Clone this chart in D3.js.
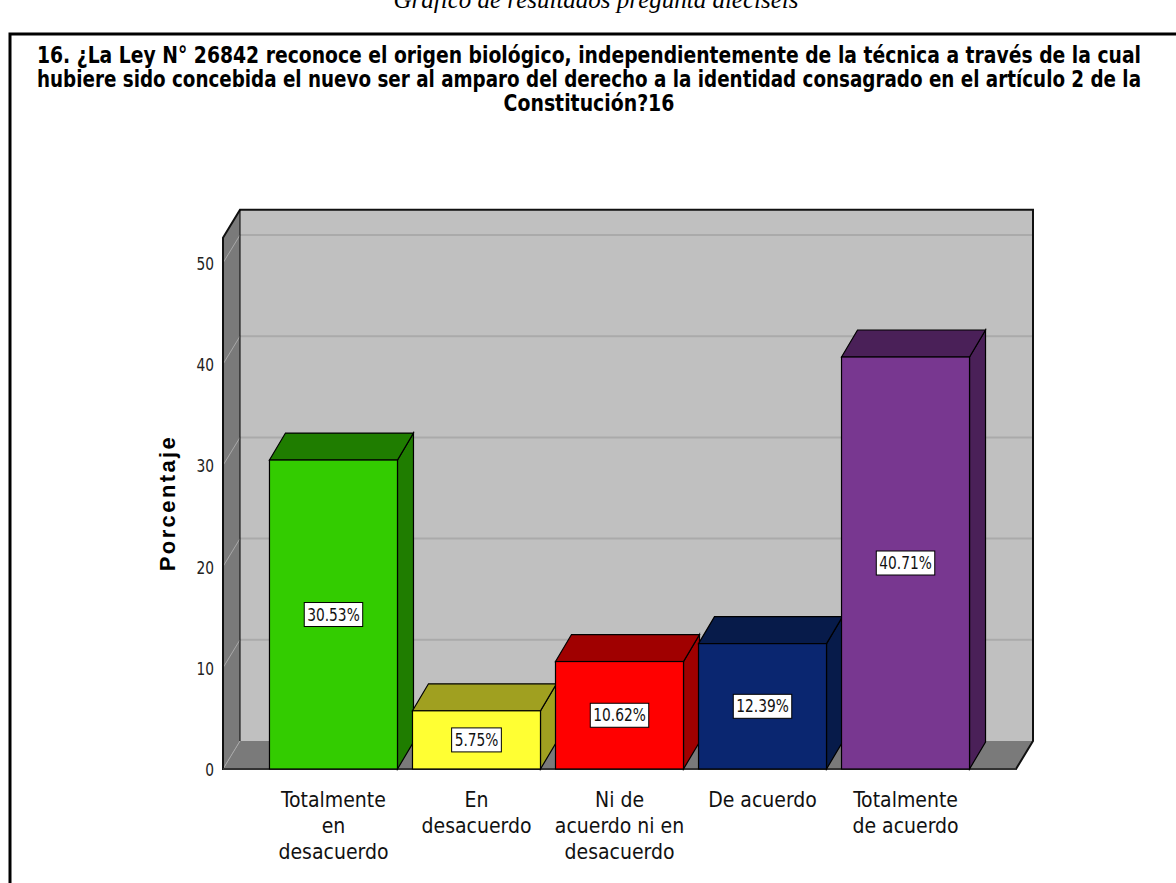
<!DOCTYPE html>
<html>
<head>
<meta charset="utf-8">
<script src="https://cdn.jsdelivr.net/npm/d3@7"></script>
<style>
  body { margin: 0; background: #fff; }
  svg { display: block; }
  .narrow { font-family: "Liberation Sans Narrow", "Arial Narrow", "DejaVu Sans Condensed", sans-serif; }
</style>
</head>
<body>
<div id="chart"></div>
<script>
// data
var categories = [
  ["Totalmente", "en", "desacuerdo"],
  ["En", "desacuerdo"],
  ["Ni de", "acuerdo ni en", "desacuerdo"],
  ["De acuerdo"],
  ["Totalmente", "de acuerdo"]
];
var values = [30.53, 5.75, 10.62, 12.39, 40.71];
var labels = ["30.53%", "5.75%", "10.62%", "12.39%", "40.71%"];
var yTicks = [0, 10, 20, 30, 40, 50];
var titleLines = [
  "16. ¿La Ley N° 26842 reconoce el origen biológico, independientemente de la técnica a través de la cual",
  "hubiere sido concebida el nuevo ser al amparo del derecho a la identidad consagrado en el artículo 2 de la",
  "Constitución?16"
];
var frontColors = ["#33cc00", "#ffff33", "#ff0000", "#0a2670", "#783790"];
var darkColors  = ["#1f7d00", "#a0a020", "#a00000", "#071b4a", "#4a2058"];

var W = 1176, H = 883;

var svg = d3.select("#chart")
  .append("svg")
    .attr("width", W)
    .attr("height", H);

// caption above the frame (cut off by page top, as in the source image)
svg.append("text")
  .attr("x", 596).attr("y", 8)
  .attr("text-anchor", "middle")
  .style("font-family", "'Liberation Serif', 'Times New Roman', serif")
  .style("font-style", "italic")
  .style("font-size", "25px")
  .text("Gráfico de resultados pregunta dieciséis");

// frame
svg.append("path")
  .attr("d", "M10,883 L10,34 L1176,34")
  .attr("fill", "none")
  .attr("stroke", "#000")
  .attr("stroke-width", 3);

// title: stretched vertically a bit to look like a narrow font
svg.append("g").selectAll("text")
  .data(titleLines)
  .enter().append("text")
    .attr("class", "narrow")
    .attr("transform", function(d, i) { return "translate(589," + (63 + i * 24) + ") scale(1,1.1)"; })
    .attr("text-anchor", "middle")
    .style("font-size", "21px")
    .style("font-weight", "bold")
    .text(function(d) { return d; })
    .each(function() {
      var w = Math.min(this.getComputedTextLength(), 1104);
      d3.select(this).attr("textLength", w).attr("lengthAdjust", "spacingAndGlyphs");
    });

// 3D geometry
var x0 = 223, x1 = 1016, yBase = 769;
var wdx = 17, wdy = 28;   // wall depth
var bdx = 16, bdy = 27;   // bar depth
var yMax = 52.5;

var y = d3.scaleLinear()
  .domain([0, yMax])
  .range([yBase, yBase - yMax * 10.12]);

var x = d3.scaleBand()
  .domain(d3.range(values.length))
  .range([x0, x1])
  .paddingInner(0.105)
  .paddingOuter(0.325);

function poly(pts) { return "M" + pts.map(function(p) { return p.join(","); }).join("L") + "Z"; }

var yTop = y(yMax);

// back wall
svg.append("path")
  .attr("d", poly([[x0 + wdx, yTop - wdy], [x1 + wdx, yTop - wdy], [x1 + wdx, yBase - wdy], [x0 + wdx, yBase - wdy]]))
  .attr("fill", "#c0c0c0");

// left wall
svg.append("path")
  .attr("d", poly([[x0, yTop], [x0 + wdx, yTop - wdy], [x0 + wdx, yBase - wdy], [x0, yBase]]))
  .attr("fill", "#7a7a7a");

// floor
svg.append("path")
  .attr("d", poly([[x0, yBase], [x0 + wdx, yBase - wdy], [x1 + wdx, yBase - wdy], [x1, yBase]]))
  .attr("fill", "#7a7a7a");

// gridlines
var grid = svg.append("g");
yTicks.filter(function(d) { return d > 0; }).forEach(function(t) {
  grid.append("line")
    .attr("x1", x0 + wdx).attr("x2", x1 + wdx)
    .attr("y1", y(t) - wdy).attr("y2", y(t) - wdy)
    .attr("stroke", "#aaaaaa").attr("stroke-width", 2);
});
yTicks.forEach(function(t) {
  grid.append("line")
    .attr("x1", x0).attr("x2", x0 + wdx)
    .attr("y1", y(t)).attr("y2", y(t) - wdy)
    .attr("stroke", "#a8a8a8").attr("stroke-width", 1);
});

// wall outlines
svg.append("path")
  .attr("d", "M" + x0 + "," + yBase + "L" + x0 + "," + yTop + "L" + (x0 + wdx) + "," + (yTop - wdy) +
             "L" + (x1 + wdx) + "," + (yTop - wdy) + "L" + (x1 + wdx) + "," + (yBase - wdy) +
             "L" + x1 + "," + yBase + "Z")
  .attr("fill", "none").attr("stroke", "#111").attr("stroke-width", 2);
svg.append("line")
  .attr("x1", x0 + wdx).attr("x2", x0 + wdx)
  .attr("y1", yTop - wdy).attr("y2", yBase - wdy)
  .attr("stroke", "#000").attr("stroke-width", 1);
svg.append("line")
  .attr("x1", x0).attr("x2", x1)
  .attr("y1", yBase).attr("y2", yBase)
  .attr("stroke", "#333").attr("stroke-width", 2);

// bars
var bars = svg.append("g").selectAll("g")
  .data(values)
  .enter().append("g");

bars.append("path") // right side
  .attr("d", function(d, i) {
    var bx = x(i) + x.bandwidth();
    return poly([[bx, y(d)], [bx + bdx, y(d) - bdy], [bx + bdx, yBase - bdy], [bx, yBase]]);
  })
  .attr("fill", function(d, i) { return darkColors[i]; })
  .attr("stroke", "#000").attr("stroke-width", 1.2);

bars.append("path") // top
  .attr("d", function(d, i) {
    var bx = x(i), bw = x.bandwidth();
    return poly([[bx, y(d)], [bx + bdx, y(d) - bdy], [bx + bw + bdx, y(d) - bdy], [bx + bw, y(d)]]);
  })
  .attr("fill", function(d, i) { return darkColors[i]; })
  .attr("stroke", "#000").attr("stroke-width", 1.2);

bars.append("rect") // front
  .attr("x", function(d, i) { return x(i); })
  .attr("y", function(d) { return y(d); })
  .attr("width", x.bandwidth())
  .attr("height", function(d) { return yBase - y(d); })
  .attr("fill", function(d, i) { return frontColors[i]; })
  .attr("stroke", "#000").attr("stroke-width", 1.2);

// value labels
bars.each(function(d, i) {
  var g = d3.select(this);
  var cx = x(i) + x.bandwidth() / 2, cy = y(d / 2);
  var box = g.append("rect");
  var t = g.append("text")
    .attr("class", "narrow")
    .attr("x", cx).attr("y", cy + 6)
    .attr("text-anchor", "middle")
    .style("font-size", "17px")
    .attr("fill", "#111")
    .text(labels[i]);
  var w = t.node().getComputedTextLength() * 0.9;
  t.attr("textLength", w).attr("lengthAdjust", "spacingAndGlyphs");
  box.attr("x", cx - w / 2 - 3).attr("y", cy - 12)
    .attr("width", w + 6).attr("height", 24)
    .attr("fill", "#fff").attr("stroke", "#000").attr("stroke-width", 1);
});

// y tick labels
svg.append("g").selectAll("text")
  .data(yTicks)
  .enter().append("text")
    .attr("class", "narrow")
    .attr("x", 214)
    .attr("y", function(d) { return y(d) + 7; })
    .attr("text-anchor", "end")
    .style("font-size", "18px")
    .attr("fill", "#222")
    .text(function(d) { return d; })
    .each(function() {
      d3.select(this).attr("textLength", this.getComputedTextLength() * 0.85).attr("lengthAdjust", "spacingAndGlyphs");
    });

// y axis title
svg.append("text")
  .attr("transform", "translate(175," + 503 + ") rotate(-90)")
  .attr("text-anchor", "middle")
  .style("font-family", "'Liberation Sans', Arial, sans-serif")
  .style("font-weight", "bold")
  .style("font-size", "22px")
  .style("letter-spacing", "2.4px")
  .text("Porcentaje");

// x labels
var xl = svg.append("g").selectAll("text")
  .data(categories)
  .enter().append("text")
    .attr("class", "narrow")
    .attr("text-anchor", "middle")
    .style("font-size", "21px")
    .attr("fill", "#111")
    .attr("transform", function(d, i) { return "translate(" + (x(i) + x.bandwidth() / 2) + ",807)"; });
xl.selectAll("tspan")
  .data(function(d) { return d; })
  .enter().append("tspan")
    .attr("x", 0)
    .attr("y", function(d, j) { return j * 26; })
    .text(function(d) { return d; });
</script>
</body>
</html>
